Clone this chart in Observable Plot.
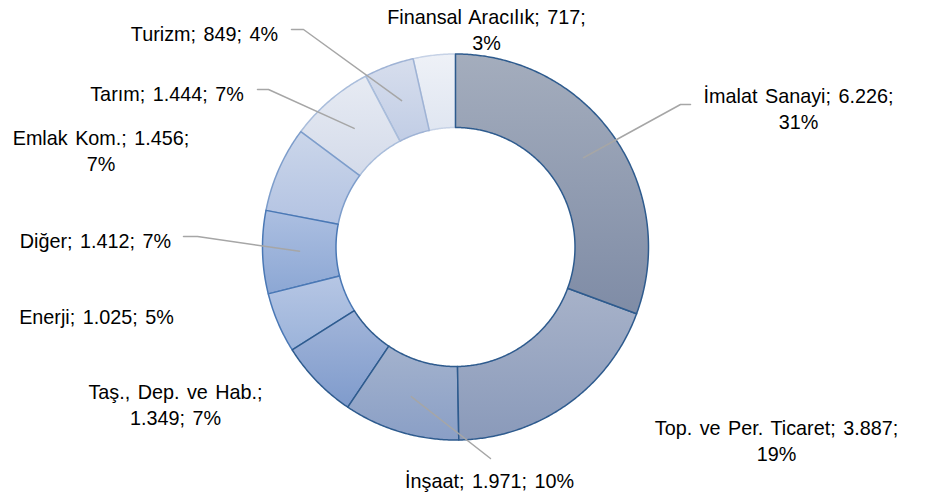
<!DOCTYPE html>
<html>
<head>
<meta charset="utf-8">
<script src="https://cdn.jsdelivr.net/npm/d3@7"></script>
<script src="https://cdn.jsdelivr.net/npm/@observablehq/plot@0.6"></script>
<style>
  html, body { margin: 0; padding: 0; background: #fff; }
  #chart { width: 928px; height: 493px; }
</style>
</head>
<body>
<div id="chart"></div>
<script>
// ---- data ----
const sectors = ["İmalat Sanayi", "Top. ve Per. Ticaret", "İnşaat", "Taş., Dep. ve Hab.", "Enerji", "Diğer", "Emlak Kom.", "Tarım", "Turizm", "Finansal Aracılık"];
const values  = [6226, 3887, 1971, 1349, 1025, 1412, 1456, 1444, 849, 717];
const percents = [31, 19, 10, 7, 5, 7, 7, 7, 4, 3];

// ---- styling / layout (not data) ----
const topColors    = ["#a4adbd", "#a7b2c9", "#a3b2cd", "#a2b5d9", "#b6c6e4", "#acbfe1", "#cbd6ea", "#e7ebf3", "#d7deed", "#eef1f7"];
const bottomColors = ["#7f8ca6", "#8a9aba", "#8a9fc6", "#7f9bcc", "#9bb3da", "#8ca7d4", "#b3c3e2", "#d4dbea", "#c1cde5", "#e0e6f1"];
const strokeColors = ["#2e5b8e", "#2e5b8e", "#2e5b8e", "#2e5b8e", "#4a78b5", "#4a78b5", "#7d9dcb", "#a9bddb", "#9fb3d5", "#c6d2e6"];
const center = [455, 246.5], outerR = 193, innerR = 119.5, midR = 156;
// label placement: center of text block, how to wrap, and leader-line elbow/end
const labelX = [798, 776, 489, 175, 96, 95, 100.5, 166.5, 204, 486];
const labelY = [107.5, 439.5, 479, 403.5, 315, 239, 149.5, 92, 32, 28.5];
const labelWrap = ["pct", "pct", "none", "value", "none", "none", "pct", "none", "none", "pct"];
const leaderElbow = [[680, 104], null, null, null, null, [197, 236], null, [268, 89], [303, 29], null];
const leaderEnd   = [[690, 104], null, [490, 458], null, null, [183, 236], null, [257, 89], [291, 29], null];

// ---- geometry from values ----
const total = d3.sum(values);
const fmt = v => v.toLocaleString("de-DE");
let acc = 0;
const slices = values.map((v, i) => {
  const a0 = acc / total * 2 * Math.PI;
  acc += v;
  const a1 = acc / total * 2 * Math.PI;
  return {i, a0, a1, mid: (a0 + a1) / 2};
});
const pt = (a, r) => [center[0] + r * Math.sin(a), center[1] - r * Math.cos(a)];
function ring(s) {
  const n = Math.max(4, Math.ceil((s.a1 - s.a0) / (Math.PI / 360)));
  const pts = [];
  for (let k = 0; k <= n; k++) { const a = s.a0 + (s.a1 - s.a0) * k / n; const [x, y] = pt(a, outerR); pts.push({x, y}); }
  for (let k = n; k >= 0; k--) { const a = s.a0 + (s.a1 - s.a0) * k / n; const [x, y] = pt(a, innerR); pts.push({x, y}); }
  return pts;
}

const labels = sectors.map((name, i) => {
  const v = fmt(values[i]), p = percents[i] + "%";
  let text;
  if (labelWrap[i] === "pct") text = `${name}; ${v};\n${p}`;
  else if (labelWrap[i] === "value") text = `${name};\n${v}; ${p}`;
  else text = `${name}; ${v}; ${p}`;
  return {x: labelX[i], y: labelY[i], text};
});

const leaders = [];
slices.forEach(s => {
  const i = s.i;
  const end = leaderEnd[i];
  if (!end) return;
  const [sx, sy] = pt(s.mid, midR);
  leaders.push({k: i, x: sx, y: sy});
  if (leaderElbow[i]) leaders.push({k: i, x: leaderElbow[i][0], y: leaderElbow[i][1]});
  leaders.push({k: i, x: end[0], y: end[1]});
});

// draw lighter slices first so darker borders sit on top
const order = slices.map(s => s.i).reverse();
const sliceMarks = order.map(i => Plot.line(ring(slices[i]), {
  x: "x", y: "y", curve: "linear-closed",
  fill: `url(#grad${i})`, stroke: strokeColors[i], strokeWidth: 1.5, strokeLinejoin: "round"
}));

const svg = Plot.plot({
  width: 928, height: 493,
  marginTop: 0, marginRight: 0, marginBottom: 0, marginLeft: 0,
  x: {domain: [0, 928], range: [0, 928], axis: null},
  y: {domain: [0, 493], range: [0, 493], axis: null},
  style: {background: "#fff", wordSpacing: "2px"},
  marks: [
    ...sliceMarks,
    Plot.line(leaders, {x: "x", y: "y", z: "k", stroke: "#a6a6a6", strokeWidth: 1.5}),
    Plot.text(labels, {
      x: "x", y: "y", text: "text", fontSize: 19.8, lineHeight: 1.27, lineAnchor: "middle",
      textAnchor: "middle", fill: "#000", fontFamily: "'Liberation Sans', Arial, sans-serif"
    })
  ]
});

// gradients
const ns = "http://www.w3.org/2000/svg";
const defs = document.createElementNS(ns, "defs");
topColors.forEach((c, i) => {
  const g = document.createElementNS(ns, "linearGradient");
  g.setAttribute("id", `grad${i}`);
  g.setAttribute("x1", "0"); g.setAttribute("y1", "0");
  g.setAttribute("x2", "0"); g.setAttribute("y2", "1");
  const s0 = document.createElementNS(ns, "stop");
  s0.setAttribute("offset", "0"); s0.setAttribute("stop-color", c);
  const s1 = document.createElementNS(ns, "stop");
  s1.setAttribute("offset", "1"); s1.setAttribute("stop-color", bottomColors[i]);
  g.appendChild(s0); g.appendChild(s1);
  defs.appendChild(g);
});
svg.insertBefore(defs, svg.firstChild);
document.getElementById("chart").appendChild(svg);
</script>
</body>
</html>
